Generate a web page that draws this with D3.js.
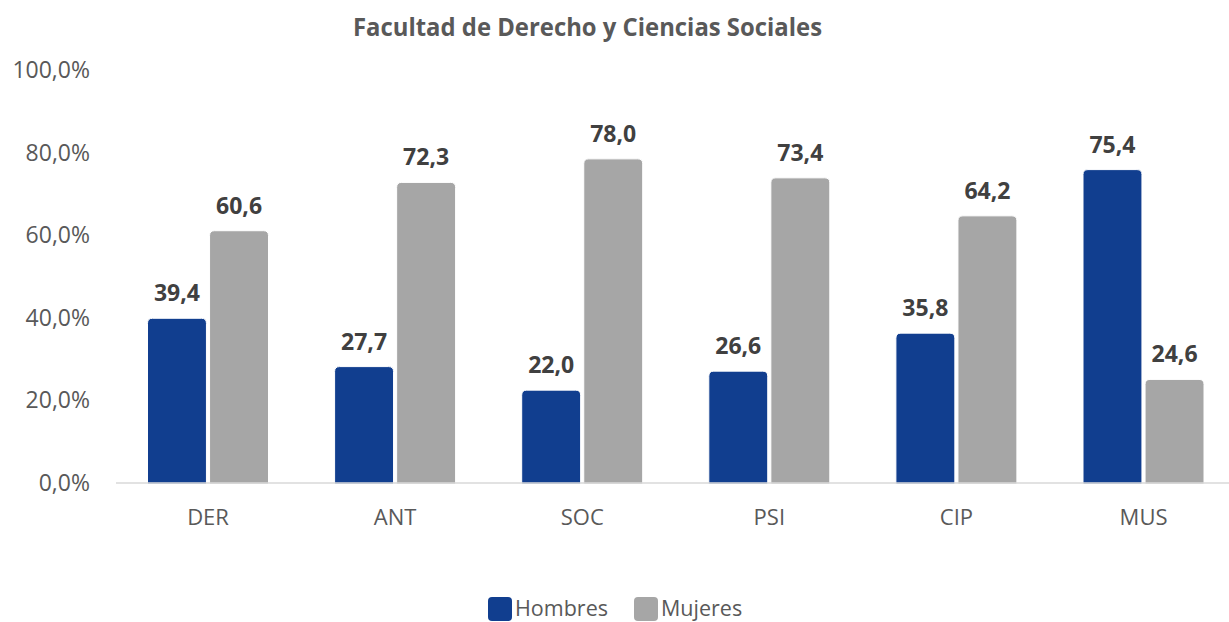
<!DOCTYPE html>
<html>
<head>
<meta charset="utf-8">
<script src="https://cdn.jsdelivr.net/npm/d3@7"></script>
<style>
  body { margin: 0; background: #fff; }
  svg { display: block; font-family: "Open Sans", "Noto Sans", sans-serif; }
</style>
</head>
<body>
<svg id="chart"></svg>
<script>
// data
const categories = ['DER', 'ANT', 'SOC', 'PSI', 'CIP', 'MUS'];
const seriesNames = ['Hombres', 'Mujeres'];
const hombres = [39.4, 27.7, 22.0, 26.6, 35.8, 75.4];
const mujeres = [60.6, 72.3, 78.0, 73.4, 64.2, 24.6];
const yTicks = [0, 20, 40, 60, 80, 100];
const colors = ['#113e8f', '#a6a6a6'];

const width = 1229;
const height = 622;

const locale = d3.formatLocale({decimal: ',', thousands: '.', grouping: [3], currency: ['', '€']});
const fmtVal = locale.format('.1f');
const fmtTick = d => locale.format('.1f')(d) + '%';

const svg = d3.select('#chart')
    .attr('width', width)
    .attr('height', height);

// scales
const x = d3.scaleBand()
    .domain(categories)
    .range([114.5, 114.5 + 6 * 187.1])
    .padding(0);

const xSub = d3.scaleBand()
    .domain(seriesNames)
    .range([33, 154])
    .paddingInner(0.05);

const y = d3.scaleLinear()
    .domain([0, 100])
    .range([481, 68]);

// title
svg.append('text')
    .attr('x', 587.5)
    .attr('y', 36)
    .attr('text-anchor', 'middle')
    .attr('font-size', 25)
    .attr('font-weight', 700)
    .attr('fill', '#595959')
    .attr('textLength', 469)
    .attr('lengthAdjust', 'spacingAndGlyphs')
    .text('Facultad de Derecho y Ciencias Sociales');

// y axis labels (no gridlines in the original)
svg.append('g')
    .selectAll('text')
    .data(yTicks)
    .enter()
    .append('text')
    .attr('x', 90)
    .attr('y', d => y(d) + 2)
    .attr('dy', '0.35em')
    .attr('text-anchor', 'end')
    .attr('font-size', 23)
    .attr('fill', '#595959')
    .text(fmtTick);

// bars with rounded top corners
function barPath(x0, w, yTop, yBottom, r) {
  return 'M' + x0 + ',' + yBottom +
    'V' + (yTop + r) +
    'Q' + x0 + ',' + yTop + ' ' + (x0 + r) + ',' + yTop +
    'H' + (x0 + w - r) +
    'Q' + (x0 + w) + ',' + yTop + ' ' + (x0 + w) + ',' + (yTop + r) +
    'V' + yBottom + 'Z';
}

const rows = categories.map((c, i) => ({cat: c, values: [
  {name: 'Hombres', value: hombres[i]},
  {name: 'Mujeres', value: mujeres[i]}
]}));

const groups = svg.selectAll('g.cat')
    .data(rows)
    .enter()
    .append('g')
    .attr('class', 'cat')
    .attr('transform', d => 'translate(' + x(d.cat) + ',0)');

groups.selectAll('path')
    .data(d => d.values)
    .enter()
    .append('path')
    .attr('d', d => barPath(xSub(d.name), xSub.bandwidth(), y(d.value), y(0) + 3, 5))
    .attr('fill', (d, i) => colors[i])
    .attr('stroke', '#ffffff')
    .attr('stroke-width', 1);

groups.selectAll('text.val')
    .data(d => d.values)
    .enter()
    .append('text')
    .attr('class', 'val')
    .attr('x', d => xSub(d.name) + xSub.bandwidth() / 2)
    .attr('y', d => y(d.value) - 17)
    .attr('text-anchor', 'middle')
    .attr('font-size', 23)
    .attr('font-weight', 700)
    .attr('fill', '#404040')
    .text(d => fmtVal(d.value));

// baseline
svg.append('line')
    .attr('x1', 116)
    .attr('x2', width)
    .attr('y1', y(0) + 2)
    .attr('y2', y(0) + 2)
    .attr('stroke', '#d9d9d9')
    .attr('stroke-width', 1.5);

// category labels
svg.append('g')
    .selectAll('text')
    .data(categories)
    .enter()
    .append('text')
    .attr('x', d => x(d) + x.bandwidth() / 2)
    .attr('y', 524.5)
    .attr('text-anchor', 'middle')
    .attr('font-size', 22)
    .attr('fill', '#595959')
    .text(d => d);

// legend
const legendX = [488, 634];
const legend = svg.append('g')
    .selectAll('g')
    .data(seriesNames)
    .enter()
    .append('g')
    .attr('transform', (d, i) => 'translate(' + legendX[i] + ',597)');
legend.append('rect')
    .attr('width', 24)
    .attr('height', 24)
    .attr('rx', 4)
    .attr('fill', (d, i) => colors[i]);
legend.append('text')
    .attr('x', 27)
    .attr('y', 19)
    .attr('font-size', 21.5)
    .attr('fill', '#595959')
    .text(d => d);
</script>
</body>
</html>
